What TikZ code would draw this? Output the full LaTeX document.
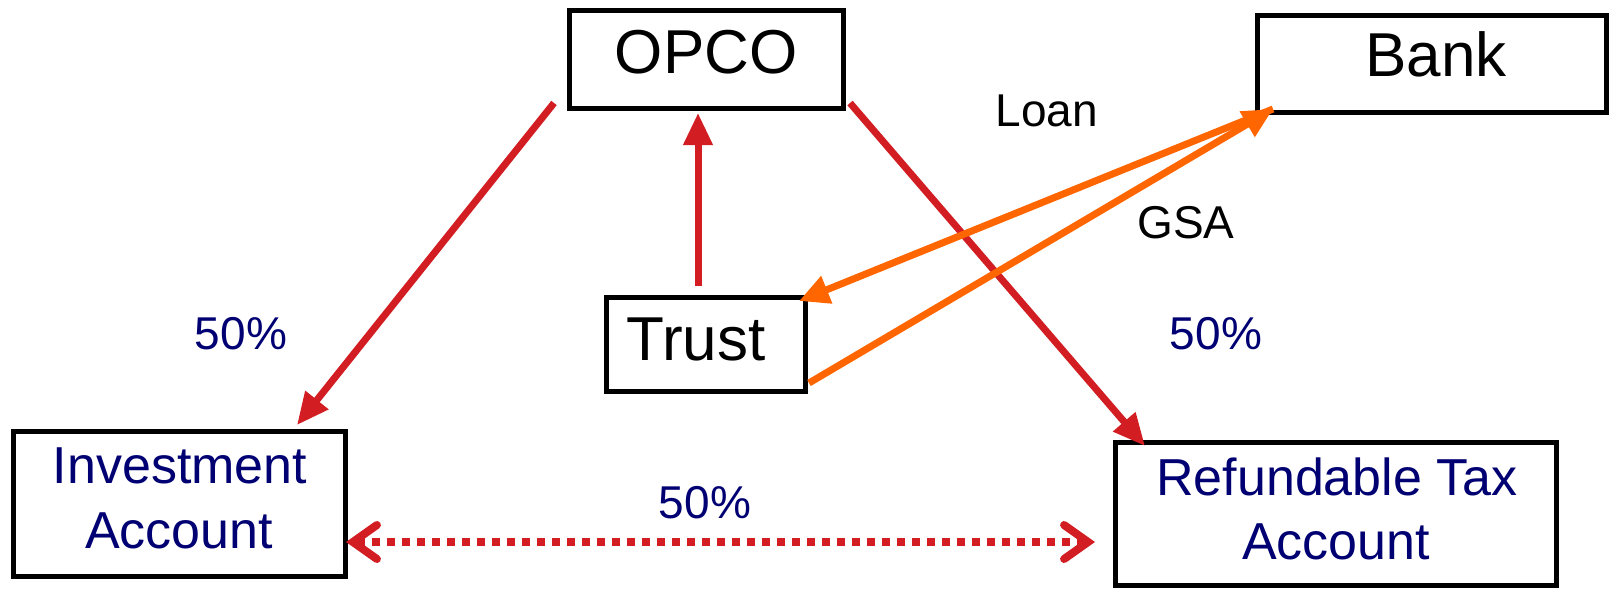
\documentclass[tikz,border=0pt]{standalone}
\usepackage{fontspec}
\setmainfont{Liberation Sans}
\usetikzlibrary{arrows.meta}
\definecolor{flowred}{RGB}{210,30,35}
\definecolor{loanorange}{RGB}{255,102,0}
\definecolor{pctblue}{RGB}{0,0,115}
\tikzset{
  x=1pt, y=-1pt,
  entity/.style={draw=black, line width=5pt, fill=white, inner sep=0pt, text depth=0pt},
  bigname/.style={font=\fontsize{62}{66}\selectfont},
  acct/.style={text=pctblue, font=\fontsize{52}{60}\selectfont, inner sep=0pt, anchor=base},
  redflow/.style={draw=flowred, line width=7pt, -{Triangle[length=32pt,width=28pt]}},
  orangeflow/.style={draw=loanorange, line width=7pt, -{Triangle[length=30pt,width=28pt]}},
  split/.style={draw=flowred, line width=8pt, dash pattern=on 8pt off 7pt,
    {Straight Barb[length=24pt,width=34pt,line cap=round,line width=8pt]}-{Straight Barb[length=24pt,width=34pt,line cap=round,line width=8pt]}},
  pct/.style={text=pctblue, font=\fontsize{46}{50}\selectfont, inner sep=0pt, anchor=base},
  tag/.style={text=black, font=\fontsize{46}{50}\selectfont, inner sep=0pt, anchor=base},
}
\begin{document}
\begin{tikzpicture}
\useasboundingbox (0,0) rectangle (1610,589);
% entity boxes
\node[entity, bigname, minimum width=274.5pt, minimum height=97.5pt, text height=27.6pt] (opco) at (706.25,59.5) {OPCO};
\node[entity, bigname, minimum width=348.5pt, minimum height=97.5pt, text height=24.5pt] (bank) at (1431.75,63.75) {\hspace*{8.5pt}Bank};
\node[entity, bigname, minimum width=199.5pt, minimum height=94pt, text height=31pt] (trust) at (705.75,344.5) {\hspace*{-19.5pt}Trust};
\node[entity, minimum width=332pt, minimum height=145.5pt] (inv) at (179,503.75) {};
\node[entity, minimum width=441.5pt, minimum height=142.5pt] (rta) at (1335.75,513.75) {};
% two-line account names
\node[acct] (invA) at (180,483) {Investment};
\node[acct] (invB) at (179,548) {Account};
\node[acct] (rtaA) at (1337,495) {Refundable Tax};
\node[acct] (rtaB) at (1336,559) {Account};
% end points of the flows
\coordinate (opcoL) at (554,103);
\coordinate (opcoR) at (850,103);
\coordinate (opcoB) at (698,113);
\coordinate (trustT) at (698,286);
\coordinate (trustTR) at (799,301);
\coordinate (trustR) at (809,383);
\coordinate (bankC) at (1273,109);
\coordinate (invT) at (297,425);
\coordinate (rtaT) at (1145,446);
\coordinate (invR) at (346,542);
\coordinate (rtaL) at (1095,542);
% flows
\draw[redflow] (opcoL) -- (invT);
\draw[redflow] (opcoR) -- (rtaT);
\draw[redflow] (trustT) -- (opcoB);
\draw[orangeflow] (bankC) -- (trustTR);
\draw[orangeflow] (trustR) -- (bankC);
\draw[split] (invR) -- (rtaL);
% labels
\node[tag] (loan) at (1046.7,126.7) {Loan};
\node[tag] (gsa) at (1186,238.3) {GSA};
\node[pct] (pl) at (241,349.3) {50\%};
\node[pct] (pr) at (1216,349.3) {50\%};
\node[pct] (pb) at (705,518.6) {50\%};
\end{tikzpicture}
\end{document}
